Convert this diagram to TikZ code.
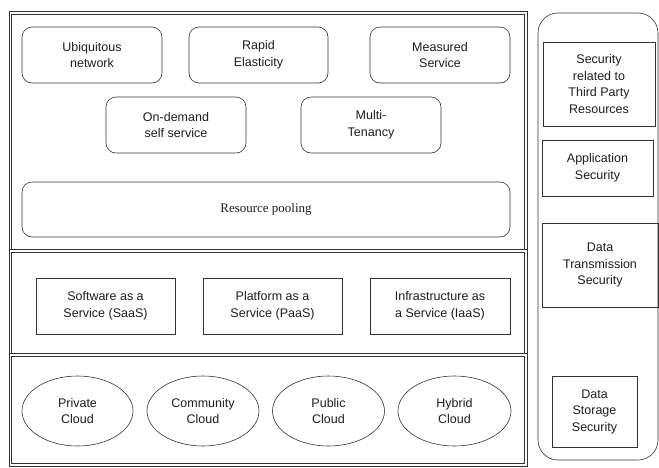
\documentclass[tikz,border=0pt]{standalone}
\usepackage{fontspec}
\setmainfont{Liberation Sans}
\newfontfamily\timesfont{Liberation Serif}
\usetikzlibrary{shapes.geometric}
\definecolor{linec}{HTML}{333333}
\definecolor{textc}{HTML}{1E1E1E}
\begin{document}
\begin{tikzpicture}[x=1pt,y=-1pt,
  frame/.style={draw=linec,double=white,double distance=1.1pt,line width=1pt},
  rbox/.style={draw=linec,line width=0.6pt,rounded corners=10pt,align=center,text=textc,font=\fontsize{12.5}{16.5}\selectfont},
  sbox/.style={draw=linec,line width=0.8pt,align=center,text=textc,font=\fontsize{12.5}{16.5}\selectfont},
  ell/.style={draw=linec,line width=0.6pt,ellipse,align=center,text=textc,font=\fontsize{12.5}{16.5}\selectfont,inner sep=0pt}]
\useasboundingbox (0,0) rectangle (659,467);
\fill[white] (0,0) rectangle (659,467);
% frames
\draw[frame] (10.5,13) rectangle (526,251);
\draw[frame] (10.5,251) rectangle (526,355);
\draw[frame] (10.5,355) rectangle (526,465);
\draw[draw=linec,line width=0.6pt,rounded corners=20pt] (538,13) rectangle (658,460);
% top boxes
\node[rbox,minimum width=140pt,minimum height=56pt] (ubi) at (92,55) {Ubiquitous\\network};
\node[rbox,minimum width=139pt,minimum height=56pt] (rapid) at (258.5,55) {Rapid\\Elasticity};
\node[rbox,minimum width=140pt,minimum height=56pt] (meas) at (440,55) {Measured\\Service};
\node[rbox,minimum width=140pt,minimum height=56pt] (ond) at (176,125) {On-demand\\self service};
\node[rbox,minimum width=140pt,minimum height=56pt] (multi) at (371,125) {Multi-\\Tenancy\vphantom{g}};
\node[rbox,minimum width=488pt,minimum height=55pt,font=\timesfont\fontsize{13}{16}\selectfont] (pool) at (266,209.5) {Resource pooling};
% service models
\node[sbox,minimum width=139pt,minimum height=56pt] (saas) at (105.5,306) {Software as a\\Service (SaaS)};
\node[sbox,minimum width=139pt,minimum height=56pt] (paas) at (272.5,306) {Platform as a\\Service (PaaS)};
\node[sbox,minimum width=140pt,minimum height=56pt] (iaas) at (440,306) {Infrastructure as\\a Service (IaaS)};
% deployment models
\node[ell,minimum width=111pt,minimum height=70pt] (priv) at (77.5,411) {Private\\Cloud};
\node[ell,minimum width=112pt,minimum height=70pt] (comm) at (203,411) {Community\\Cloud};
\node[ell,minimum width=112pt,minimum height=70pt] (pub) at (328.5,411) {Public\\Cloud};
\node[ell,minimum width=113pt,minimum height=70pt] (hyb) at (454.5,411) {Hybrid\\Cloud};
% security
\node[sbox,minimum width=112pt,minimum height=84pt] (sec3) at (599,84) {Security\\related to\\Third Party\\Resources};
\node[sbox,minimum width=111pt,minimum height=56pt] (appsec) at (597.5,168) {Application\\Security};
\node[sbox,minimum width=116pt,minimum height=84pt] (dts) at (600,265) {Data\\Transmission\\Security};
\node[sbox,minimum width=85pt,minimum height=71pt] (dss) at (594.5,411.5) {Data\\Storage\\Security};
\end{tikzpicture}
\end{document}
